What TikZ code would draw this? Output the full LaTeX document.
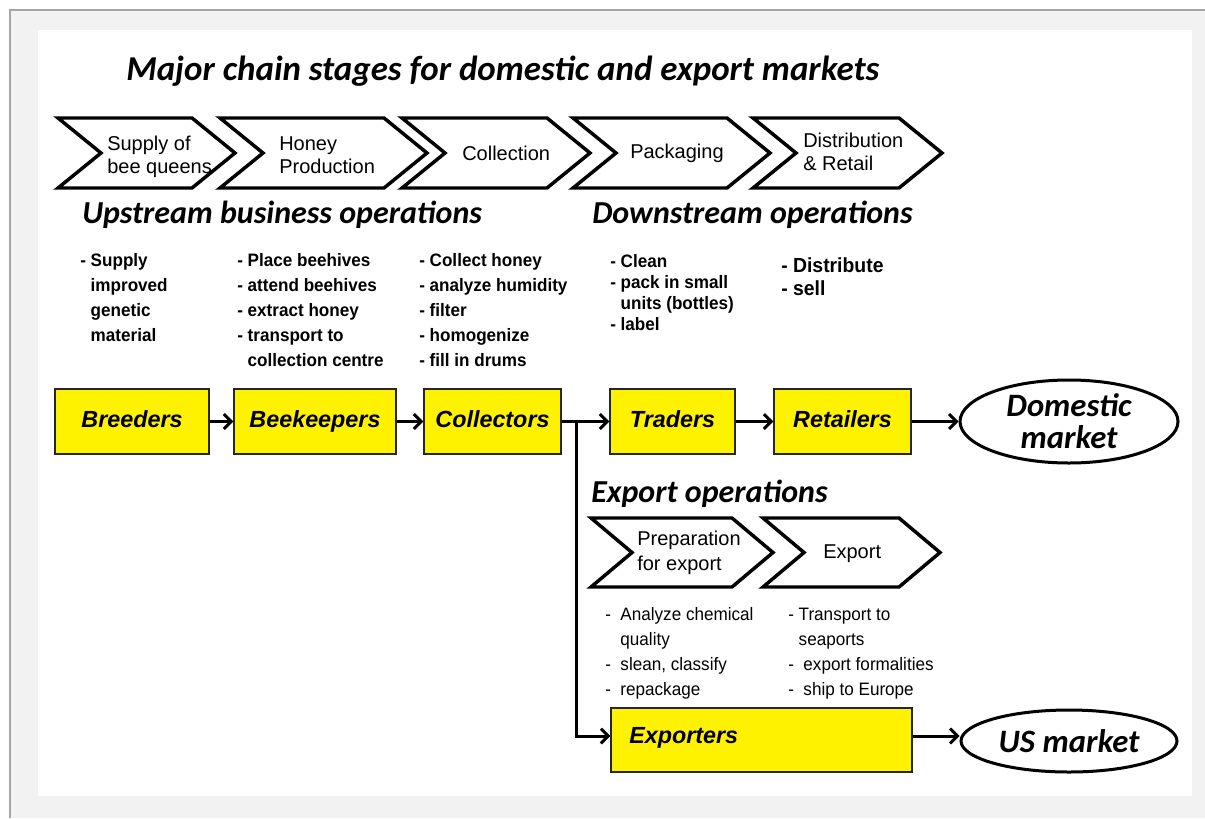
\documentclass[tikz,border=0pt]{standalone}
\usepackage{fontspec}
\setmainfont{Liberation Sans}
\newfontfamily\calfont{Carlito}
\newfontfamily\arialfont{Liberation Sans}
\newfontfamily\narrowfont[FakeStretch=0.95]{Liberation Sans}
\usetikzlibrary{arrows.meta,shapes.geometric}
\definecolor{bggray}{HTML}{F2F2F2}
\definecolor{edgegray}{HTML}{A6A6A6}
\newcommand\mychev[5]{%
  \draw[chev] (#1,#3) -- (#2-#5,#3) -- (#2,{(#3+#4)/2}) -- (#2-#5,#4) -- (#1,#4) -- (#1+#5,{(#3+#4)/2}) -- cycle;}
\begin{document}
\begin{tikzpicture}[x=0.75pt,y=-0.75pt,
  chev/.style={draw=black, fill=white, line width=2.6pt, line join=miter, miter limit=20},
  chevtext/.style={anchor=base west, inner sep=0pt, align=left, font=\arialfont\fontsize{15}{17.25}\selectfont},
  heading/.style={anchor=base west, inner sep=0pt, font=\calfont\bfseries\itshape\fontsize{24}{28}\selectfont},
  ulist/.style={anchor=base west, inner sep=0pt, align=left, font=\narrowfont\bfseries\fontsize{13.5}{18.75}\selectfont},
  elist/.style={anchor=base west, inner sep=0pt, align=left, font=\narrowfont\fontsize{13.5}{18.75}\selectfont},
  actor/.style={draw=black!85, line width=1.1pt, fill=yellow, inner sep=0pt, text height=12.5pt, text depth=4pt, font=\arialfont\bfseries\itshape\fontsize{17.5}{20}\selectfont},
  boxlabel/.style={inner sep=0pt, font=\arialfont\bfseries\itshape\fontsize{17.5}{20}\selectfont},
  market/.style={draw=black, line width=2.25pt, fill=white, ellipse, inner sep=0pt, align=center, font=\calfont\bfseries\itshape\fontsize{24.5}{24}\selectfont},
  flow/.style={line width=2.25pt, -{Straight Barb[length=5.5pt,width=11pt]}},
]
% background
\useasboundingbox (0,0) rectangle (1205,818);
\fill[white] (0,0) rectangle (1205,818);
\fill[bggray] (10,10) rectangle (1205,818);
\draw[edgegray, line width=0.9pt] (1205,10) -- (10,10) -- (10,818);
\fill[white] (38,30) rectangle (1192,796);

% title
\node[anchor=base west, inner sep=0pt, font=\calfont\bfseries\itshape\fontsize{26.2}{30}\selectfont] (title) at (126,80) {Major chain stages for domestic and export markets};

% top chevrons
\mychev{58}{235}{118}{188}{43}
\mychev{220}{427}{118}{188}{43}
\mychev{402}{590}{118}{188}{43}
\mychev{573}{770}{118}{188}{43}
\mychev{753}{942}{118}{188}{43}
\node[chevtext] (c1) at (107,173) {Supply of\\bee queens};
\node[chevtext] (c2) at (279,173) {Honey\\Production};
\node[chevtext] (c3) at (462,160) {Collection};
\node[chevtext] (c4) at (630,158) {Packaging};
\node[chevtext] (c5) at (803,170) {Distribution\\\& Retail};

% headings
\node[heading] (up) at (82,223) {Upstream business operations};
\node[heading] (down) at (592,223) {Downstream operations};
\node[heading] (expop) at (591,502) {Export operations};

% activity lists
\node[ulist] (l1) at (80,341) {- Supply\\\phantom{- }improved\\\phantom{- }genetic\\\phantom{- }material};
\node[ulist] (l2) at (237,366) {- Place beehives\\- attend beehives\\- extract honey\\- transport to\\\phantom{- }collection centre};
\node[ulist] (l3) at (419,366) {- Collect honey\\- analyze humidity\\- filter\\- homogenize\\- fill in drums};
\node[ulist, font=\narrowfont\bfseries\fontsize{13.5}{15.75}\selectfont] (l4) at (610,330) {- Clean\\- pack in small\\\phantom{- }units (bottles)\\- label};
\node[ulist, font=\narrowfont\bfseries\fontsize{15.3}{17.25}\selectfont] (l5) at (781,295) {- Distribute\\- sell};

% actor boxes
\node[actor, minimum width=115.5pt, minimum height=48.75pt] (bre) at (132,421.5) {Breeders};
\node[actor, minimum width=121.5pt, minimum height=48.75pt] (bee) at (315,421.5) {Beekeepers};
\node[actor, minimum width=102.75pt, minimum height=48.75pt] (col) at (492.5,421.5) {Collectors};
\node[actor, minimum width=93.75pt, minimum height=48.75pt] (tra) at (672.5,421.5) {Traders};
\node[actor, minimum width=102.75pt, minimum height=48.75pt] (ret) at (842.5,421.5) {Retailers};
\node[market, minimum width=163.5pt, minimum height=62.25pt] (dom) at (1069,421.5) {Domestic\\market};

% export chevrons
\mychev{591}{773}{518}{587}{41}
\mychev{763}{940}{518}{587}{41}
\node[chevtext, font=\arialfont\fontsize{15}{18.75}\selectfont] (e1) at (637,570) {Preparation\\for export};
\node[chevtext] (e2) at (823,558) {Export};

\node[elist] (l6) at (605,695) {-\ \ Analyze chemical\\\phantom{-\ \ }quality\\-\ \ slean, classify\\-\ \ repackage};
\node[elist] (l7) at (788,695) {- Transport to\\\phantom{- }seaports\\-\ \ export formalities\\-\ \ ship to Europe};

\node[actor, minimum width=225.75pt, minimum height=48pt] (exp) at (761.5,740) {};
\node[boxlabel, anchor=base west] (explab) at (629,743) {Exporters};
\node[market, minimum width=162pt, minimum height=46.5pt] (us) at (1069,741) {US market};

% connectors
\coordinate (J) at (576,421.5);
\coordinate (K) at (576,736);
\draw[flow] (bre) -- (bee);
\draw[flow] (bee) -- (col);
\draw[flow] (col) -- (tra);
\draw[flow] (tra) -- (ret);
\draw[flow] (ret) -- (dom);
\draw[flow] (J) |- (K -| exp.west);
\draw[flow] (exp.east |- K) -- (K -| us.west);
\end{tikzpicture}
\end{document}
